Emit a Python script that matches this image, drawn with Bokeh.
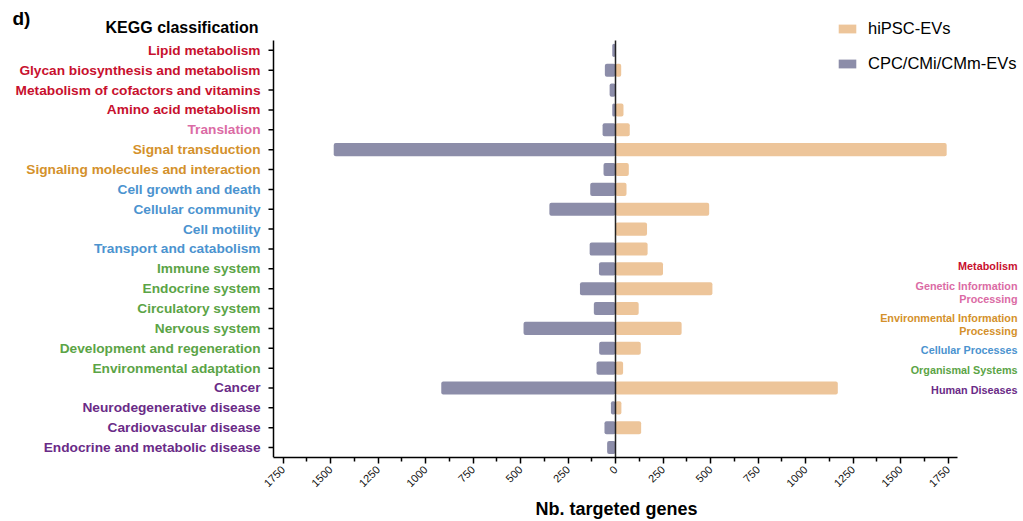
import math
from bokeh.plotting import figure
from bokeh.models import (ColumnDataSource, Range1d, FixedTicker, CustomJSTickFormatter, Legend, LegendItem, Title)
from bokeh.core.properties import value
from bokeh.embed import file_html
from bokeh.resources import INLINE

categories = ["Lipid metabolism", "Glycan biosynthesis and metabolism", "Metabolism of cofactors and vitamins",
              "Amino acid metabolism", "Translation", "Signal transduction", "Signaling molecules and interaction",
              "Cell growth and death", "Cellular community", "Cell motility", "Transport and catabolism",
              "Immune system", "Endocrine system", "Circulatory system", "Nervous system",
              "Development and regeneration", "Environmental adaptation", "Cancer", "Neurodegenerative disease",
              "Cardiovascular disease", "Endocrine and metabolic disease"]
groups = ["Metabolism"] * 4 + ["Genetic Information Processing"] + ["Environmental Information Processing"] * 2 + \
         ["Cellular Processes"] * 4 + ["Organismal Systems"] * 6 + ["Human Diseases"] * 4
hipsc = [0, 30, 0, 42, 75, 1743, 70, 58, 493, 166, 169, 250, 510, 122, 348, 133, 40, 1170, 31, 135, 0]
cpc = [17, 56, 31, 17, 68, 1483, 63, 133, 348, 0, 136, 87, 187, 114, 484, 86, 100, 917, 24, 58, 44]
x_ticks = [-1750, -1500, -1250, -1000, -750, -500, -250, 0, 250, 500, 750, 1000, 1250, 1500, 1750]
x_minor = [-1625, -1375, -1125, -875, -625, -375, -125, 125, 375, 625, 875, 1125, 1375, 1625]
group_keys = ["Metabolism", "Genetic Information Processing", "Environmental Information Processing",
              "Cellular Processes", "Organismal Systems", "Human Diseases"]
group_names = ["Metabolism", "Genetic Information\nProcessing", "Environmental Information\nProcessing",
               "Cellular Processes", "Organismal Systems", "Human Diseases"]
group_colors = ["#C8102E", "#DB6BA5", "#D4912B", "#4B93CF", "#5BA446", "#6A2B87"]

FONT = "Liberation Sans"
ORANGE = "#EDC59A"
PURPLE = "#8C8DA9"

# layout constants (pixels)
W, H = 1023, 521
AX_LEFT_PX, AX_RIGHT_PX, FRAME_BOTTOM_PX = 273, 957, 457
XLIM = 1800
ROW_PX = 19.86
px_per_unit = (AX_RIGHT_PX - AX_LEFT_PX) / (2 * XLIM)

n = len(categories)
rows = list(range(n))
cmap = dict(zip(group_keys, group_colors))
src = ColumnDataSource(dict(
    row=rows,
    cat=categories,
    hipsc=hipsc,
    cpc_neg=[-v for v in cpc],
    zero=[0] * n,
    color=[cmap[g] for g in groups],
    axis_x=[-XLIM] * n,
))

y_bottom = n - 0.5
y_top = y_bottom - FRAME_BOTTOM_PX / ROW_PX
x_start = -XLIM - AX_LEFT_PX / px_per_unit
x_end = XLIM + (W - AX_RIGHT_PX) / px_per_unit

p = figure(width=W, height=H, output_backend="svg", toolbar_location=None,
           x_range=Range1d(x_start, x_end), y_range=Range1d(y_bottom, y_top),
           y_axis_location=None,
           min_border_left=0, min_border_right=0, min_border_top=0, min_border_bottom=H - FRAME_BOTTOM_PX)
p.outline_line_color = None
p.xgrid.visible = False
p.ygrid.visible = False
p.background_fill_color = "white"

r1 = p.hbar(y="row", left="zero", right="hipsc", height=0.66, source=src, fill_color=ORANGE,
            line_color=None, border_radius=2)
r2 = p.hbar(y="row", left="cpc_neg", right="zero", height=0.66, source=src, fill_color=PURPLE,
            line_color=None, border_radius=2)

# zero line and left axis line
p.segment(x0=[0, -XLIM], y0=[-0.5, -0.5], x1=[0, -XLIM], y1=[y_bottom, y_bottom],
          line_color=["#222222", "black"], line_width=1.5)
# left axis ticks
p.ray(x="axis_x", y="row", length=5, length_units="screen", angle=math.pi, source=src,
      line_color="black", line_width=1.5)
# left category labels
p.text(x="axis_x", y="row", text="cat", source=src, text_color="color", x_offset=-13,
       text_font=value(FONT), text_font_style="bold", text_font_size="13.7px",
       text_align="right", text_baseline="middle")

# titles
p.text(x=[-XLIM], y=[0], text=["KEGG classification"], x_offset=-15, y_offset=-23,
       text_font=value(FONT), text_font_style="bold", text_font_size="16px",
       text_align="right", text_baseline="middle", text_color="black")
p.text(x=[-XLIM], y=[0], text=["d)"], x_offset=12 - AX_LEFT_PX, y_offset=-32,
       text_font=value(FONT), text_font_style="bold", text_font_size="19px",
       text_align="left", text_baseline="middle", text_color="black")

# group key on the right
g_offsets = [-2.5, 23.5, 56, 81.5, 101.5, 121.5]
p.text(x=[XLIM] * len(group_names), y=[11] * len(group_names), text=group_names, x_offset=60,
       y_offset=g_offsets, text_color=group_colors,
       text_font=value(FONT), text_font_style="bold", text_font_size="10.8px",
       text_align="right", text_baseline="middle", text_line_height=1.1)

# x axis
xa = p.xaxis[0]
xa.bounds = (-XLIM, XLIM)
xa.ticker = FixedTicker(ticks=x_ticks, minor_ticks=x_minor)
xa.formatter = CustomJSTickFormatter(code="return Math.abs(tick).toString();")
xa.major_label_orientation = math.pi / 4
xa.major_label_text_font = FONT
xa.major_label_text_font_size = "11px"
xa.major_label_text_color = "#111111"
xa.major_label_standoff = 4
xa.axis_line_width = 1.5
xa.axis_line_color = "black"
xa.major_tick_line_width = 1.5
xa.minor_tick_line_width = 1.5
xa.major_tick_in = 0
xa.major_tick_out = 6
xa.minor_tick_in = 0
xa.minor_tick_out = 4

p.add_layout(Title(text="Nb. targeted genes", align="left", offset=535, text_font=FONT,
                   text_font_style="bold", text_font_size="18px", text_color="black", standoff=6),
             "below")

legend = Legend(items=[LegendItem(label="hiPSC-EVs", renderers=[r1]),
                       LegendItem(label="CPC/CMi/CMm-EVs", renderers=[r2])],
                location=(836, FRAME_BOTTOM_PX - 73), orientation="vertical", padding=0, margin=0,
                border_line_color=None, background_fill_alpha=0,
                glyph_width=22, glyph_height=11, label_height=12, spacing=16, label_standoff=10,
                label_text_font=FONT, label_text_font_size="16.5px", label_text_color="black")
p.add_layout(legend, "center")

open("out.html", "w").write(file_html(p, INLINE))
